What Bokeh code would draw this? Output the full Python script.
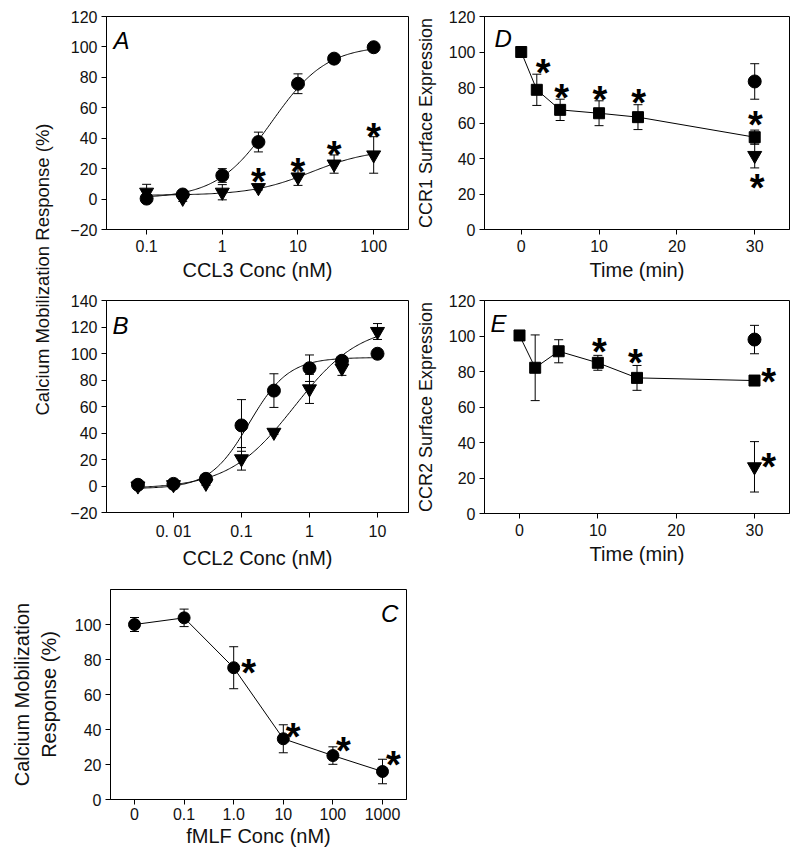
import math
import numpy as np
from bokeh.plotting import figure
from bokeh.layouts import row, column
from bokeh.models import Range1d, FixedTicker, Whisker, TeeHead, ColumnDataSource
from bokeh.core.properties import value
from bokeh.embed import file_html
from bokeh.resources import INLINE

FONT = "Liberation Sans"

# ---------------- Panel A (CCL3) ----------------
ccl3_conc = [0.1, 0.3, 1, 3, 10, 30, 100]
a_circle = [0.3, 3, 15.5, 37.5, 75.8, 92.3, 99.8]
a_circle_err = [2, 1.5, 4.5, 6.5, 6.5, 1.5, 1]
a_tri = [4.5, 0.5, 4.5, 7.5, 14.5, 23, 29]
a_tri_err = [5.2, 2, 5, 1.5, 5.5, 6, 12]
a_star_x = [3, 10, 30, 100]
a_star_y = [17, 24, 35, 47]
a_fit_circle = dict(bottom=0.5, top=101, ec50=4.5, hill=1.2)
a_fit_tri = dict(bottom=2.5, top=33, ec50=15, hill=1.1)
a_ticks = [0.1, 1, 10, 100]
a_tick_labels = ["0.1", "1", "10", "100"]

# ---------------- Panel B (CCL2) ----------------
ccl2_conc = [0.003, 0.01, 0.03, 0.1, 0.3, 1, 3, 10]
b_circle = [0.9, 1.6, 5.4, 45.7, 72, 88.9, 94.5, 99.8]
b_circle_err = [1, 1, 1.5, 19.5, 12.7, 10, 1.5, 1]
b_tri = [0, 1, 2, 20.5, 40.5, 73.3, 89, 116.6]
b_tri_err = [1, 1, 1.5, 8.5, 1.5, 11, 5.5, 6]
b_fit_circle = dict(bottom=-2, top=97, ec50=0.13, hill=1.5)
b_fit_tri = dict(bottom=-2, top=122, ec50=0.6, hill=0.9)
b_ticks = [0.001, 0.01, 0.1, 1, 10]
b_tick_labels = ["", "0. 01", "0.1", "1", "10"]

# ---------------- Panel C (fMLF) ----------------
fmlf_labels = ["0", "0.1", "1.0", "10", "100", "1000"]
c_resp = [100, 103.8, 75.3, 34.7, 25.1, 16]
c_err = [4, 5, 12, 8, 5, 7]
c_star_x = [2.3, 3.2, 4.21, 5.22]
c_star_y = [77.7, 41, 32.6, 25]

# ---------------- Panel D (CCR1) ----------------
time_min = [0, 2, 5, 10, 15, 30]
d_square = [100, 78.7, 67.4, 65.5, 63.3, 52]
d_square_err = [0.5, 8.8, 6, 7, 7, 4]
d_circle_x = [30]
d_circle = [83.4]
d_circle_err = [10]
d_tri_x = [30]
d_tri = [41.7]
d_tri_err = [7]
d_star_x = [2.8, 5.2, 10.1, 15.1, 30.1, 30.3]
d_star_y = [93.5, 78.9, 78.3, 76.6, 63.7, 28.7]

# ---------------- Panel E (CCR2) ----------------
e_square = [100.3, 82.1, 91.4, 84.9, 76.4, 74.9]
e_square_err = [0.5, 18.5, 6.5, 4.2, 7, 0.5]
e_circle_x = [30]
e_circle = [98]
e_circle_err = [8]
e_tri_x = [30]
e_tri = [26.3]
e_tri_err = [14.2]
e_star_x = [10.2, 14.8, 31.8, 31.8]
e_star_y = [95.8, 90.1, 78.9, 31.5]


def hill_curve(xmin, xmax, bottom, top, ec50, hill):
    xs = np.logspace(math.log10(xmin), math.log10(xmax), 200)
    ys = bottom + (top - bottom) / (1.0 + (ec50 / xs) ** hill)
    return xs, ys


def make_fig(width, height, x_range, y_range, borders, x_log=False):
    l, r, t, b = borders
    p = figure(width=width, height=height, x_range=x_range, y_range=y_range,
               x_axis_type="log" if x_log else "linear",
               output_backend="svg", toolbar_location=None,
               min_border_left=l, min_border_right=r, min_border_top=t, min_border_bottom=b)
    p.outline_line_color = "black"
    p.outline_line_width = 1
    p.outline_line_alpha = 1
    p.grid.visible = False
    p.background_fill_color = "white"
    p.border_fill_color = "white"
    for ax in p.axis:
        ax.major_tick_in = 0
        ax.major_tick_out = 5
        ax.minor_tick_line_color = None
        ax.axis_line_color = "black"
        ax.major_tick_line_color = "black"
        ax.major_label_text_font = FONT
        ax.major_label_text_font_size = "16px"
        ax.major_label_text_color = "#111111"
        ax.axis_label_text_font = FONT
        ax.axis_label_text_font_style = "normal"
        ax.axis_label_text_color = "#111111"
    p.xaxis.major_label_standoff = 5
    p.xaxis.axis_label_standoff = 4
    p.xaxis.axis_label_text_font_size = "20px"
    p.yaxis.major_label_standoff = 4
    p.yaxis.axis_label_text_font_size = "18px"
    return p


def errorbars(p, xs, ys, errs):
    src = ColumnDataSource(dict(x=xs, upper=[y + e for y, e in zip(ys, errs)],
                                lower=[y - e for y, e in zip(ys, errs)]))
    w = Whisker(base="x", upper="upper", lower="lower", source=src, dimension="height",
                line_color="black", line_width=1,
                upper_head=TeeHead(size=9, line_color="black", line_width=1),
                lower_head=TeeHead(size=9, line_color="black", line_width=1))
    p.add_layout(w)


def stars(p, xs, ys):
    p.text(x=xs, y=ys, text=["*"] * len(xs), text_font=value(FONT), text_font_size="38px",
           text_font_style="bold", text_align="center", text_baseline="middle",
           y_offset=9, text_color="black")


def panel_letter(p, x, y, letter, align="left"):
    p.text(x=[x], y=[y], text=[letter], text_font=value(FONT), text_font_size="24px",
           text_font_style="italic", text_align=align, text_baseline="alphabetic",
           text_color="black")


# ---------------- Label figure ----------------
lab = figure(width=56, height=576, x_range=Range1d(0, 56), y_range=Range1d(0, 576),
             output_backend="svg", toolbar_location=None, min_border=0)
lab.axis.visible = False
lab.grid.visible = False
lab.outline_line_color = None
lab.text(x=[42], y=[307], text=["Calcium Mobilization Response (%)"], angle=math.pi / 2,
         text_font=value(FONT), text_font_size="18.5px", text_align="center",
         text_baseline="middle", text_color="#111111")

# ---------------- A ----------------
pa = make_fig(354, 290, Range1d(10 ** -1.53, 10 ** 2.46), Range1d(-20, 120), (50, 2, 16, 61), x_log=True)
pa.xaxis.ticker = FixedTicker(ticks=a_ticks)
pa.xaxis.major_label_overrides = dict(zip(a_ticks, a_tick_labels))
pa.yaxis.ticker = FixedTicker(ticks=list(range(-20, 121, 20)))
pa.xaxis.axis_label = "CCL3 Conc (nM)"
xs, ys = hill_curve(0.1, 100, **a_fit_circle)
pa.line(xs, ys, line_color="black", line_width=1)
xs, ys = hill_curve(0.1, 100, **a_fit_tri)
pa.line(xs, ys, line_color="black", line_width=1)
errorbars(pa, ccl3_conc, a_circle, a_circle_err)
errorbars(pa, ccl3_conc, a_tri, a_tri_err)
pa.scatter(ccl3_conc, a_tri, marker="inverted_triangle", size=14, color="black")
pa.scatter(ccl3_conc, a_circle, marker="circle", size=13, color="black")
stars(pa, a_star_x, a_star_y)
panel_letter(pa, 0.0366, 104.2, "A")

# ---------------- B ----------------
pb = make_fig(354, 286, Range1d(10 ** -2.985, 10 ** 1.456), Range1d(-20, 140), (50, 2, 10, 64), x_log=True)
pb.xaxis.ticker = FixedTicker(ticks=b_ticks)
pb.xaxis.major_label_overrides = dict(zip(b_ticks, b_tick_labels))
pb.yaxis.ticker = FixedTicker(ticks=list(range(-20, 141, 20)))
pb.xaxis.axis_label = "CCL2 Conc (nM)"
xs, ys = hill_curve(0.003, 10, **b_fit_circle)
pb.line(xs, ys, line_color="black", line_width=1)
xs, ys = hill_curve(0.003, 10, **b_fit_tri)
pb.line(xs, ys, line_color="black", line_width=1)
errorbars(pb, ccl2_conc, b_circle, b_circle_err)
errorbars(pb, ccl2_conc, b_tri, b_tri_err)
pb.scatter(ccl2_conc, b_tri, marker="inverted_triangle", size=14, color="black")
pb.scatter(ccl2_conc, b_circle, marker="circle", size=13, color="black")
panel_letter(pb, 0.00127, 121.1, "B")

# ---------------- C ----------------
c_idx = list(range(len(fmlf_labels)))
pc = make_fig(412, 288, Range1d(-0.484, 5.484), Range1d(0, 120), (110, 6, 13, 65))
pc.xaxis.ticker = FixedTicker(ticks=c_idx)
pc.xaxis.major_label_overrides = dict(zip(c_idx, fmlf_labels))
pc.yaxis.ticker = FixedTicker(ticks=list(range(0, 101, 20)))
pc.xaxis.axis_label = "fMLF Conc (nM)"
pc.yaxis.axis_label = "Calcium Mobilization\nResponse (%)"
pc.yaxis.axis_label_text_font_size = "20px"
pc.yaxis.axis_label_standoff = 12
pc.xaxis.major_label_standoff = 3
pc.xaxis.axis_label_standoff = 2
pc.line(c_idx, c_resp, line_color="black", line_width=1)
errorbars(pc, c_idx, c_resp, c_err)
pc.scatter(c_idx, c_resp, marker="circle", size=12, color="black")
stars(pc, c_star_x, c_star_y)
panel_letter(pc, 5.32, 106.3, "C", align="right")

# ---------------- D ----------------
pd_ = make_fig(381, 290, Range1d(-4.72, 34.47), Range1d(0, 120), (72, 2, 16, 61))
pd_.xaxis.ticker = FixedTicker(ticks=[0, 10, 20, 30])
pd_.yaxis.ticker = FixedTicker(ticks=list(range(0, 121, 20)))
pd_.xaxis.axis_label = "Time (min)"
pd_.yaxis.axis_label = "CCR1 Surface Expression"
pd_.yaxis.axis_label_standoff = 10
pd_.line(time_min, d_square, line_color="black", line_width=1)
errorbars(pd_, time_min, d_square, d_square_err)
errorbars(pd_, d_circle_x, d_circle, d_circle_err)
errorbars(pd_, d_tri_x, d_tri, d_tri_err)
pd_.scatter(d_tri_x, d_tri, marker="inverted_triangle", size=14, color="black")
pd_.scatter(d_circle_x, d_circle, marker="circle", size=13, color="black")
pd_.scatter(time_min, d_square, marker="square", size=11, color="black")
stars(pd_, d_star_x, d_star_y)
panel_letter(pd_, -3.44, 107.6, "D")

# ---------------- E ----------------
pe = make_fig(381, 286, Range1d(-4.47, 34.47), Range1d(0, 120), (74, 2, 10, 63))
pe.xaxis.ticker = FixedTicker(ticks=[0, 10, 20, 30])
pe.yaxis.ticker = FixedTicker(ticks=list(range(0, 121, 20)))
pe.xaxis.axis_label = "Time (min)"
pe.yaxis.axis_label = "CCR2 Surface Expression"
pe.yaxis.axis_label_standoff = 10
pe.line(time_min, e_square, line_color="black", line_width=1)
errorbars(pe, time_min, e_square, e_square_err)
errorbars(pe, e_circle_x, e_circle, e_circle_err)
errorbars(pe, e_tri_x, e_tri, e_tri_err)
pe.scatter(e_tri_x, e_tri, marker="inverted_triangle", size=14, color="black")
pe.scatter(e_circle_x, e_circle, marker="circle", size=13, color="black")
pe.scatter(time_min, e_square, marker="square", size=11, color="black")
stars(pe, e_star_x, e_star_y)
panel_letter(pe, -3.7, 107, "E")

layout = column(row(lab, column(pa, pb), column(pd_, pe)), pc)

open("out.html", "w").write(file_html(layout, INLINE))
